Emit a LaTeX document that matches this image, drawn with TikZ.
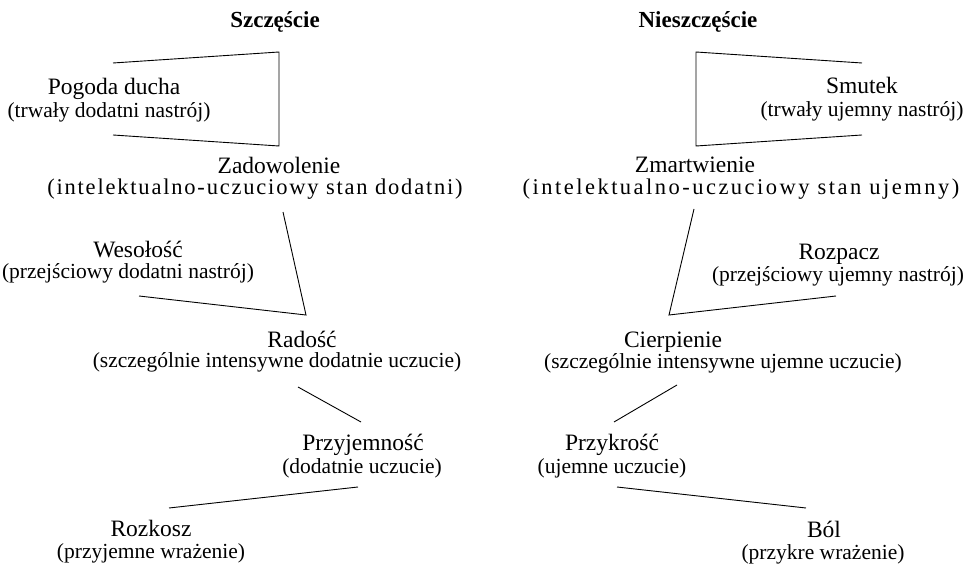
\documentclass[tikz,border=0pt]{standalone}
\usepackage{fontspec}
\setmainfont{Liberation Serif}
\begin{document}
\begin{tikzpicture}[x=1pt,y=-1pt,
        every node/.style={inner sep=0pt,anchor=base},
        tytul/.style={font=\fontsize{23}{27}\selectfont\bfseries},
        nazwa/.style={font=\fontsize{23.5}{28}\selectfont},
        opis/.style={font=\fontsize{21.5}{26}\selectfont},
        szeroki/.style={font=\fontsize{22.5}{26}\selectfont\addfontfeature{LetterSpace=#1}},
        kreska/.style={line width=0.9pt}]
    \useasboundingbox (0,0) rectangle (964,564);

    % szczescie
    \node[tytul] (szczescie) at (275,28) {Szczęście};
    \node[nazwa] (pogoda) at (114,95) {Pogoda ducha};
    \node[opis] (pogoda-opis) at (109,118) {(trwały dodatni nastrój)};
    \node[nazwa] (zadowolenie) at (279,174) {Zadowolenie};
    \node[szeroki=8] (zadowolenie-opis) at (255,195) {(intelektualno-uczuciowy stan dodatni)};
    \node[nazwa] (wesolosc) at (138,258) {Wesołość};
    \node[opis] (wesolosc-opis) at (128,279) {(przejściowy dodatni nastrój)};
    \node[nazwa] (radosc) at (302,347) {Radość};
    \node[opis] (radosc-opis) at (277,367) {(szczególnie intensywne dodatnie uczucie)};
    \node[nazwa] (przyjemnosc) at (363,450) {Przyjemność};
    \node[opis] (przyjemnosc-opis) at (362,473) {(dodatnie uczucie)};
    \node[nazwa] (rozkosz) at (151,536) {Rozkosz};
    \node[opis] (rozkosz-opis) at (151,558) {(przyjemne wrażenie)};

    % nieszczescie
    \node[tytul] (nieszczescie) at (698,28) {Nieszczęście};
    \node[nazwa] (smutek) at (862,94) {Smutek};
    \node[opis] (smutek-opis) at (862,117) {(trwały ujemny nastrój)};
    \node[nazwa] (zmartwienie) at (695,173) {Zmartwienie};
    \node[szeroki=11] (zmartwienie-opis) at (741,195) {(intelektualno-uczuciowy stan ujemny)};
    \node[nazwa] (rozpacz) at (839,260) {Rozpacz};
    \node[opis] (rozpacz-opis) at (838,281) {(przejściowy ujemny nastrój)};
    \node[nazwa] (cierpienie) at (673,347) {Cierpienie};
    \node[opis] (cierpienie-opis) at (723,368) {(szczególnie intensywne ujemne uczucie)};
    \node[nazwa] (przykrosc) at (612,450) {Przykrość};
    \node[opis] (przykrosc-opis) at (612,473) {(ujemne uczucie)};
    \node[nazwa] (bol) at (824,537) {Ból};
    \node[opis] (bol-opis) at (823,559) {(przykre wrażenie)};

    % punkty kresek
    \coordinate (pog-g) at (113,63);
    \coordinate (pog-d) at (113,135);
    \coordinate (zad-g) at (279,52);
    \coordinate (zad-d) at (279,146);
    \coordinate (smu-g) at (862,63);
    \coordinate (smu-d) at (862,135);
    \coordinate (zma-g) at (696,52);
    \coordinate (zma-d) at (696,146);
    \coordinate (zad-r) at (283,212);
    \coordinate (wes-r) at (139,296);
    \coordinate (rad-g) at (306,315);
    \coordinate (zma-c) at (694,209);
    \coordinate (roz-c) at (836,296);
    \coordinate (cie-g) at (669,315);
    \coordinate (rad-d) at (298,387);
    \coordinate (prz-g) at (361,422);
    \coordinate (cie-d) at (677,385);
    \coordinate (pkr-g) at (614,422);
    \coordinate (prz-d) at (358,487);
    \coordinate (rkz-g) at (169,508);
    \coordinate (pkr-d) at (617,487);
    \coordinate (bol-g) at (806,508);

    \draw[kreska] (pog-g) -- (zad-g) -- (zad-d) -- (pog-d);
    \draw[kreska] (smu-g) -- (zma-g) -- (zma-d) -- (smu-d);
    \draw[kreska] (zad-r) -- (rad-g) -- (wes-r);
    \draw[kreska] (zma-c) -- (cie-g) -- (roz-c);
    \draw[kreska] (rad-d) -- (prz-g);
    \draw[kreska] (cie-d) -- (pkr-g);
    \draw[kreska] (prz-d) -- (rkz-g);
    \draw[kreska] (pkr-d) -- (bol-g);
\end{tikzpicture}
\end{document}
